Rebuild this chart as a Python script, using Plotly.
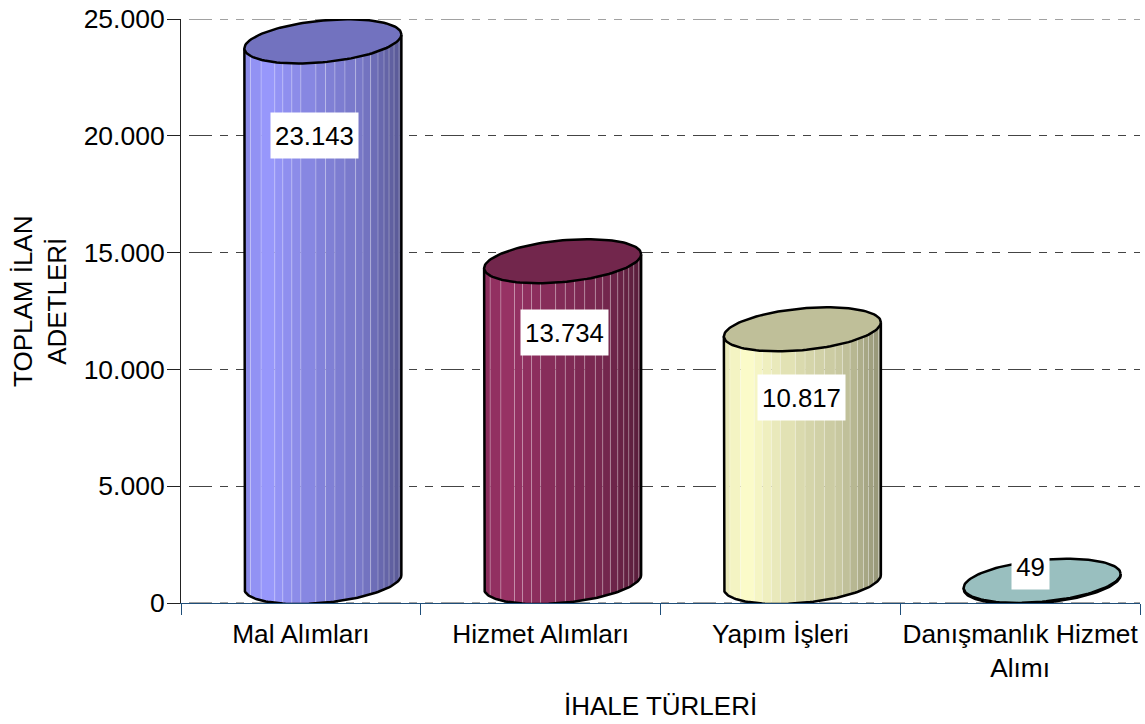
import numpy as np
import plotly.graph_objects as go

categories = ["Mal Alımları", "Hizmet Alımları", "Yapım İşleri", "Danışmanlık Hizmet<br>Alımı"]
values = [23143, 13734, 10817, 49]
value_labels = ["23.143", "13.734", "10.817", "49"]
y_ticks = [0, 5000, 10000, 15000, 20000, 25000]
y_tick_labels = ["0", "5.000", "10.000", "15.000", "20.000", "25.000"]

base_colors = [(153, 153, 255), (153, 51, 102), (255, 255, 204), (204, 255, 255)]
label_anchor = [20000, 11580, 8818, 1584]
label_shift_px = [-8, 1.5, -1, -11.5]
label_width = [87, 87, 87, 37]

W, H = 1145, 724
L, R, T, B = 181, 5, 19, 121
px_x = 4 / (W - L - R)
px_y = 25000 / (H - T - B)
HALF_W = 78.5 * px_x
OFFSET = 22 * px_x
RY = 20.9 * px_y
SHEAR = 7 * px_y
BASE = 21 * px_y
FONT = "Liberation Sans, Arial, sans-serif"
GRID_DASH = "0px,8px,23px,8px,8px,8px,8px,0px"
GRID_COLOR = "#444"

seams = np.array([240, 272, 313, 337, 364, 391, 436, 465, 493, 523, 555, 577, 600, 622, 640, 655, 670, 685])
seams = (seams - 222) / 470
edges = np.concatenate([[0], seams, [1]])


def t_of(f):
    return 2 * np.pi - np.arccos(2 * np.asarray(f) - 1)


def arc(cx, cy, t):
    return cx + HALF_W * np.cos(t), cy + RY * np.sin(t) + SHEAR * np.cos(t)


def shade(f):
    return np.interp(f, [0, 0.12, 0.5, 0.75, 1], [0.9, 1, 0.85, 0.78, 0.58])


fig = go.Figure()
common = dict(mode="lines", hoverinfo="skip", showlegend=False)

# gridlines on the two range edges (Plotly leaves them out)
for yv in (y_ticks[0], y_ticks[-1]):
    fig.add_trace(go.Scatter(x=[0, 4], y=[yv, yv], cliponaxis=False,
                             line=dict(color=GRID_COLOR, width=1, dash=GRID_DASH), **common))

for i, (v, col) in enumerate(zip(values, base_colors)):
    cx = i + 0.5 + OFFSET
    low = BASE
    high = v + BASE
    for f0, f1 in zip(edges[:-1], edges[1:]):
        ts = np.linspace(t_of(f0), t_of(f1), 6)
        xl, yl = arc(cx, low, ts)
        xh, yh = arc(cx, high, ts)
        k = float(shade((f0 + f1) / 2))
        c = "rgb(%d,%d,%d)" % tuple(int(k * a) for a in col)
        fig.add_trace(go.Scatter(x=np.r_[xl, xh[::-1]], y=np.r_[yl, yh[::-1]], fill="toself",
                                 fillcolor=c, line=dict(width=0), cliponaxis=False, **common))
    # light seams between the strips
    sx, sy = [], []
    for f in seams:
        xl, yl = arc(cx, low, t_of(f))
        xh, yh = arc(cx, high, t_of(f))
        sx += [float(xl), float(xh), None]
        sy += [float(yl), float(yh), None]
    fig.add_trace(go.Scatter(x=sx, y=sy, cliponaxis=False,
                             line=dict(color="rgba(255,255,255,0.27)", width=1), **common))
    # silhouette: left side, front arc, right side
    ts = np.linspace(np.pi, 2 * np.pi, 80)
    xl, yl = arc(cx, low, ts)
    xa, ya = arc(cx, high, np.pi)
    xb, yb = arc(cx, high, 2 * np.pi)
    fig.add_trace(go.Scatter(x=np.r_[xa, xl, xb], y=np.r_[ya, yl, yb], cliponaxis=False,
                             line=dict(color="black", width=2.5), **common))
    # top ellipse
    ts = np.linspace(0, 2 * np.pi, 121)
    xe, ye = arc(cx, high, ts)
    top = "rgb(%d,%d,%d)" % tuple(int(0.75 * a) for a in col)
    fig.add_trace(go.Scatter(x=xe, y=ye, fill="toself", fillcolor=top, cliponaxis=False,
                             line=dict(color="black", width=2.5), **common))

for i, txt in enumerate(value_labels):
    fig.add_annotation(x=i + 0.5 + OFFSET + label_shift_px[i] * px_x, y=label_anchor[i], text=txt, showarrow=False,
                       bgcolor="white", width=label_width[i], height=45, align="center", valign="middle",
                       borderpad=0, font=dict(family=FONT, size=25.8, color="black"))

fig.add_annotation(xref="paper", yref="paper", x=(660 - L) / (W - L - R), y=(H - B - 706) / (H - T - B),
                   xanchor="center", yanchor="middle",
                   text="İHALE TÜRLERİ", showarrow=False, font=dict(family=FONT, size=26, color="black"))
fig.add_annotation(xref="paper", yref="paper", x=(40 - L) / (W - L - R), y=(H - B - 302) / (H - T - B),
                   xanchor="center", yanchor="middle",
                   text="TOPLAM İLAN<br>ADETLERİ", textangle=-90, showarrow=False, align="center",
                   font=dict(family=FONT, size=26, color="black"))

fig.update_layout(
    width=W, height=H, autosize=False, margin=dict(l=L, r=R, t=T, b=B, pad=0),
    paper_bgcolor="white", plot_bgcolor="white", showlegend=False,
    font=dict(family=FONT, size=26, color="black"),
    xaxis=dict(range=[0, 4], tickmode="array", tickvals=[0.5, 1.5, 2.5, 3.5], ticktext=categories,
               ticks="", showgrid=False, zeroline=False, showline=True, linecolor="#1F4E79", linewidth=1,
               tickangle=0, ticklabelstandoff=7, tickfont=dict(size=26.3),
               minor=dict(tickmode="array", tickvals=[0, 1, 2, 3, 4], ticks="outside", ticklen=11,
                          tickcolor="#1F4E79", tickwidth=1, showgrid=False)),
    yaxis=dict(range=[0, 25000], tickmode="array", tickvals=y_ticks, ticktext=y_tick_labels,
               ticks="outside", ticklen=13, tickcolor="#222", tickwidth=1, showline=True, linecolor="#222",
               linewidth=1, zeroline=False, showgrid=True, gridcolor=GRID_COLOR, gridwidth=1,
               griddash=GRID_DASH, ticklabelstandoff=-3, tickfont=dict(size=26.5)),
)
fig.write_html("out.html", config={"displayModeBar": False}, post_script="document.body.style.margin='0';")
